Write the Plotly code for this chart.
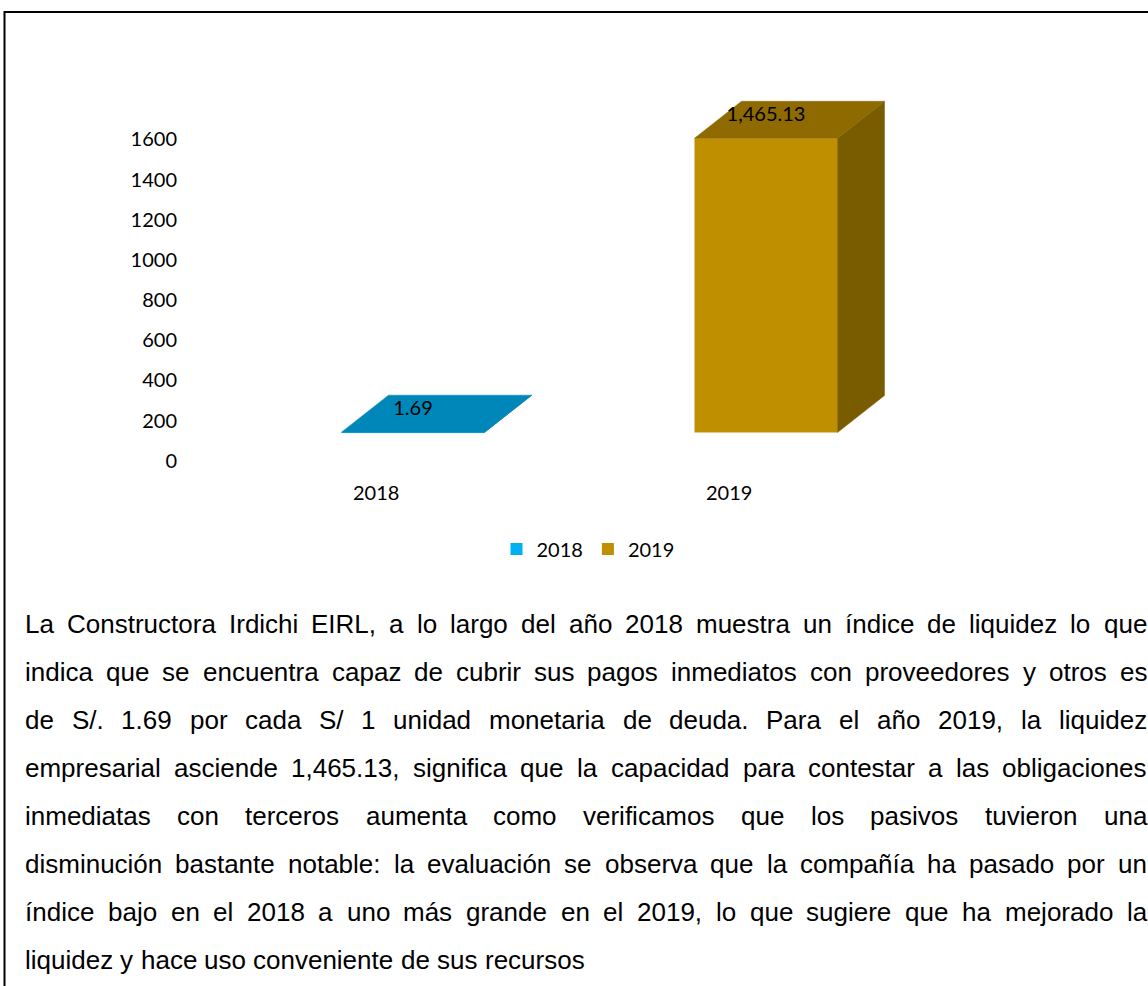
import plotly.graph_objects as go

# ---------------- data ----------------
categories = ["2018", "2019"]
values = [1.69, 1465.13]
front_colors = ["#00B0F0", "#BF8F00"]
top_colors = ["#0087BA", "#8F6A00"]
side_colors = ["#006E99", "#7A5C00"]
ytick_vals = [0, 200, 400, 600, 800, 1000, 1200, 1400, 1600]

paragraph_lines = [
    "La Constructora Irdichi EIRL, a lo largo del año 2018 muestra un índice de liquidez lo que",
    "indica que se encuentra capaz de cubrir sus pagos inmediatos con proveedores y otros es",
    "de S/. 1.69 por cada S/ 1 unidad monetaria de deuda. Para el año 2019, la liquidez",
    "empresarial asciende 1,465.13, significa que la capacidad para contestar a las obligaciones",
    "inmediatas con terceros aumenta como verificamos que los pasivos tuvieron una",
    "disminución bastante notable: la evaluación se observa que la compañía ha pasado por un",
    "índice bajo en el 2018 a uno más grande en el 2019, lo que sugiere que ha mejorado la",
    "liquidez y hace uso conveniente de sus recursos",
]

# ---------------- geometry (pixels) ----------------
W, H = 1148, 986
PL, PR, PT, PB = 190, 1048, 60, 470      # plot area in page pixels
X0_PX, X_STEP = 413.0, 353.0              # front centre of first bar, px per category
Y0_PX, Y_SCALE = 432.5, 0.2008            # pixel of value 0 on bar front, px per unit
AXIS_SHIFT_PX = 28.2                      # value axis drawn lower than bar fronts
BAR_W = 143.0 / X_STEP
DX = 47.0 / X_STEP
DY = 37.0 / Y_SCALE

xr = [(PL - X0_PX) / X_STEP, (PR - X0_PX) / X_STEP]
yr = [-(PB - Y0_PX) / Y_SCALE, (Y0_PX - PT) / Y_SCALE]
shift = AXIS_SHIFT_PX / Y_SCALE
yr2 = [yr[0] + shift, yr[1] + shift]


def px_x(p):
    return (p - PL) / (PR - PL)


def px_y(p):
    return (PB - p) / (PB - PT)


CHART_FONT = "Lato, Carlito, Calibri, sans-serif"
TEXT_FONT = "Liberation Sans, Arial, Helvetica, sans-serif"

fig = go.Figure()

xpos = list(range(len(categories)))

# front faces
for i, (cat, v) in enumerate(zip(categories, values)):
    fig.add_trace(go.Bar(
        x=[xpos[i]], y=[v], name=cat, width=BAR_W,
        marker=dict(color=front_colors[i], line=dict(width=0)),
        hoverinfo="skip", showlegend=True,
    ))

# side and top faces (3D look)
for i, v in enumerate(values):
    xl = xpos[i] - BAR_W / 2
    xrgt = xpos[i] + BAR_W / 2
    side_x = [xrgt, xrgt, xrgt + DX, xrgt + DX, xrgt]
    side_y = [0, v, v + DY, DY, 0]
    fig.add_trace(go.Scatter(
        x=side_x, y=side_y, fill="toself", mode="lines",
        fillcolor=side_colors[i], line=dict(width=0.5, color=side_colors[i]),
        hoverinfo="skip", showlegend=False,
    ))
    top_x = [xl, xrgt, xrgt + DX, xl + DX, xl]
    top_y = [v, v, v + DY, v + DY, v]
    fig.add_trace(go.Scatter(
        x=top_x, y=top_y, fill="toself", mode="lines",
        fillcolor=top_colors[i], line=dict(width=0.5, color=top_colors[i]),
        hoverinfo="skip", showlegend=False,
    ))

# value labels
label_off = 22.0 / Y_SCALE
fig.add_trace(go.Scatter(
    x=xpos, y=[v + label_off for v in values], mode="text",
    text=[f"{v:,.2f}" for v in values],
    textfont=dict(family=CHART_FONT, size=20, color="#000000"),
    textposition="middle center", hoverinfo="skip", showlegend=False,
))

# invisible trace to bind the tick axis
fig.add_trace(go.Scatter(
    x=[xpos[0]], y=[0], yaxis="y2", mode="markers",
    marker=dict(opacity=0), hoverinfo="skip", showlegend=False,
))

annotations = []
# category labels
cat_dx = -37.0 / X_STEP
for i, cat in enumerate(categories):
    annotations.append(dict(
        x=xpos[i] + cat_dx, y=px_y(492), xref="x", yref="paper", text=cat,
        showarrow=False, font=dict(family=CHART_FONT, size=20, color="#000000"),
        xanchor="center", yanchor="middle",
    ))

# justified paragraph
AW = {
    ' ': 278, '!': 278, ',': 278, '-': 333, '.': 278, '/': 278, ':': 278, ';': 278,
    '0': 556, '1': 556, '2': 556, '3': 556, '4': 556, '5': 556, '6': 556, '7': 556, '8': 556, '9': 556,
    'A': 667, 'B': 667, 'C': 722, 'D': 722, 'E': 667, 'F': 611, 'G': 778, 'H': 722, 'I': 278,
    'J': 500, 'K': 667, 'L': 556, 'M': 833, 'N': 722, 'O': 778, 'P': 667, 'Q': 778, 'R': 722,
    'S': 667, 'T': 611, 'U': 722, 'V': 667, 'W': 944, 'X': 667, 'Y': 667, 'Z': 611,
    'a': 556, 'b': 556, 'c': 500, 'd': 556, 'e': 556, 'f': 278, 'g': 556, 'h': 556, 'i': 222,
    'j': 222, 'k': 500, 'l': 222, 'm': 833, 'n': 556, 'o': 556, 'p': 556, 'q': 556, 'r': 333,
    's': 500, 't': 278, 'u': 556, 'v': 500, 'w': 722, 'x': 500, 'y': 500, 'z': 500,
    'á': 556, 'é': 556, 'í': 278, 'ó': 556, 'ú': 556, 'ñ': 556,
}
FS = 26
TEXT_LEFT, TEXT_RIGHT = 25.0, 1147.0
LINE_Y0, LINE_STEP = 624.0, 48.0


def wwidth(w):
    return sum(AW.get(c, 556) for c in w) * FS / 1000.0


for li, line in enumerate(paragraph_lines):
    words = line.split(" ")
    ws = [wwidth(w) for w in words]
    last = li == len(paragraph_lines) - 1
    if last or len(words) < 2:
        gap = AW[' '] * FS / 1000.0
    else:
        gap = (TEXT_RIGHT - TEXT_LEFT - sum(ws)) / (len(words) - 1)
    x = TEXT_LEFT
    yc = LINE_Y0 + li * LINE_STEP
    for w, wd in zip(words, ws):
        annotations.append(dict(
            x=px_x(x), y=px_y(yc), xref="paper", yref="paper", text=w,
            showarrow=False, xanchor="left", yanchor="middle",
            borderpad=0, borderwidth=0,
            font=dict(family=TEXT_FONT, size=FS, color="#000000"),
        ))
        x += wd + gap

shapes = [dict(
    type="rect", xref="paper", yref="paper",
    x0=px_x(4.5), x1=px_x(1170), y0=px_y(1010), y1=px_y(12),
    line=dict(color="#000000", width=2), fillcolor="rgba(0,0,0,0)", layer="above",
)]

fig.update_layout(
    width=W, height=H,
    margin=dict(l=PL, r=W - PR, t=PT, b=H - PB, pad=0),
    paper_bgcolor="#FFFFFF", plot_bgcolor="#FFFFFF",
    barmode="overlay",
    xaxis=dict(range=xr, showgrid=False, zeroline=False, showticklabels=False,
               showline=False, ticks="", fixedrange=True),
    yaxis=dict(range=yr, showgrid=False, zeroline=False, showticklabels=False,
               showline=False, ticks="", fixedrange=True),
    yaxis2=dict(range=yr2, overlaying="y", side="left", anchor="x",
                tickvals=ytick_vals, ticktext=[str(t) for t in ytick_vals],
                showgrid=False, zeroline=False, showline=False, ticks="",
                ticklabelstandoff=12,
                tickfont=dict(family=CHART_FONT, size=20, color="#000000"),
                fixedrange=True),
    showlegend=True,
    legend=dict(orientation="h", x=px_x(588), y=px_y(549),
                xanchor="center", yanchor="middle",
                font=dict(family=CHART_FONT, size=20, color="#000000"),
                itemwidth=30, bgcolor="rgba(0,0,0,0)"),
    annotations=annotations,
    shapes=shapes,
)

fig.write_html("out.html", include_plotlyjs=True, full_html=True,
               config={"displayModeBar": False},
               post_script="document.body.style.margin='0px';document.body.style.overflow='hidden';")
